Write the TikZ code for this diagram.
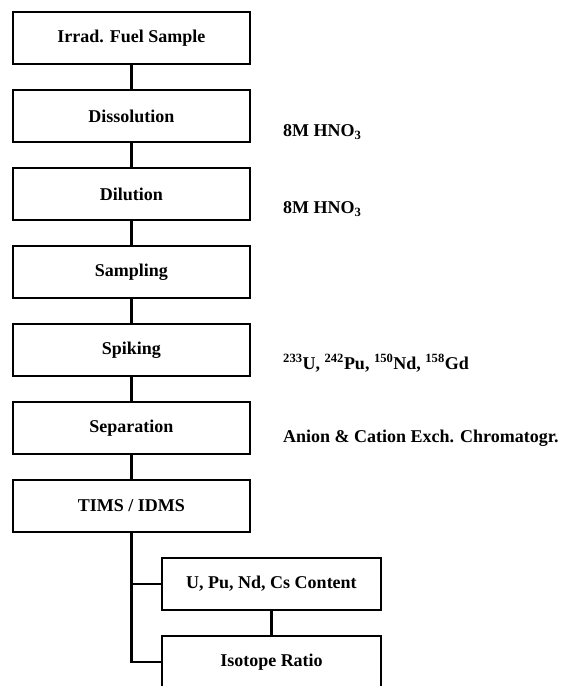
\documentclass[tikz,border=0pt]{standalone}
\usepackage{fontspec}
\setmainfont{Liberation Serif}
\usetikzlibrary{positioning}

\begin{document}
\begin{tikzpicture}[x=1pt,y=-1pt,
  stepbox/.style={draw,line width=2.4pt,outer sep=0pt,inner sep=0pt,
    minimum width=237pt,minimum height=52pt,font=\fontsize{18}{21}\selectfont\bfseries},
  resbox/.style={stepbox,minimum width=219pt},
  note/.style={anchor=base west,inner sep=0pt,font=\fontsize{18}{21}\selectfont\bfseries},
  link/.style={line width=2.4pt}]
\useasboundingbox (0,0) rectangle (562,686);
% main chain
\node[stepbox] (fuel) at (131.3,38) {Irrad. Fuel Sample};
\node[stepbox,below=26pt of fuel] (dissol) {Dissolution};
\node[stepbox,below=26pt of dissol] (dilut) {Dilution};
\node[stepbox,below=26pt of dilut] (sampl) {Sampling};
\node[stepbox,below=26pt of sampl] (spike) {Spiking};
\node[stepbox,below=26pt of spike] (separ) {Separation};
\node[stepbox,below=26pt of separ] (tims) {TIMS / IDMS};
% results
\node[resbox] (content) at (271.5,584) {U, Pu, Nd, Cs Content};
\node[resbox,below=26pt of content] (ratio) {Isotope Ratio};
% reagents
\node[note] (hno1) at (283,136.5) {8M HNO\textsubscript{3}};
\node[note] (hno2) at (283,213.5) {8M HNO\textsubscript{3}};
\node[note] (spk) at (283,369) {\textsuperscript{233}U, \textsuperscript{242}Pu, \textsuperscript{150}Nd, \textsuperscript{158}Gd};
\node[note] (chrom) at (283,442) {Anion \& Cation Exch. Chromatogr.};
\draw[link] (fuel)--(dissol) (dissol)--(dilut) (dilut)--(sampl)
  (sampl)--(spike) (spike)--(separ) (separ)--(tims)
  (content)--(ratio);
\draw[link] (tims.south) |- (content.west)
  (tims.south) |- (ratio.west);
\end{tikzpicture}
\end{document}
